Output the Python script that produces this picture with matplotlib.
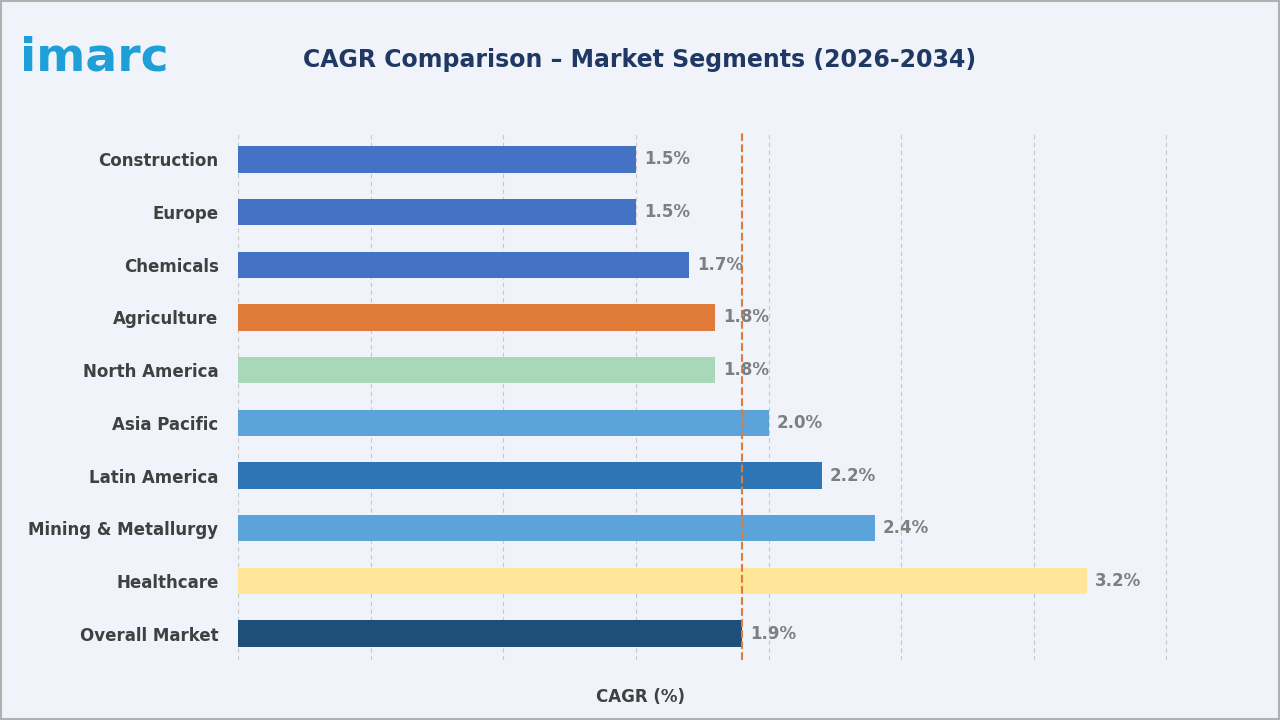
import matplotlib
matplotlib.use("Agg")
import matplotlib.pyplot as plt
from matplotlib.patches import Rectangle

categories = ["Construction", "Europe", "Chemicals", "Agriculture", "North America",
              "Asia Pacific", "Latin America", "Mining & Metallurgy", "Healthcare", "Overall Market"]
values = [1.5, 1.5, 1.7, 1.8, 1.8, 2.0, 2.2, 2.4, 3.2, 1.9]
colors = ["#4472C4", "#4472C4", "#4472C4", "#E07B39", "#A9D8B8",
          "#5BA3D9", "#2E75B6", "#5BA3D9", "#FFE699", "#1F4E79"]
overall = 1.9

bg = "#F0F3F9"
fig = plt.figure(figsize=(12.8, 7.2), dpi=100, facecolor=bg)
fig.patches.append(Rectangle((0.001, 0.001), 0.998, 0.998, transform=fig.transFigure,
                             fill=False, edgecolor="#B0B0B0", lw=1.5))
ax = fig.add_axes([238/1280, 1-660/720, (1167-238)/1280, (660-133)/720], facecolor=bg)
y = list(range(len(categories)))
ax.barh(y, values, height=0.5, color=colors, zorder=2)
ax.set_ylim(len(categories)-0.5, -0.5)
ax.set_xlim(0, 3.502)
ax.set_xticks([0, 0.5, 1, 1.5, 2, 2.5, 3, 3.5])
ax.set_xticklabels([])
ax.tick_params(length=0)
ax.grid(axis="x", color="#C8C8C8", lw=0.8, ls=(0, (4, 3)), zorder=0)
for s in ax.spines.values():
    s.set_visible(False)
ax.set_yticks(y)
ax.set_yticklabels(categories, fontsize=12, fontweight="bold", color="#404040")
ax.tick_params(axis="y", pad=14)
for yi, v in zip(y, values):
    ax.text(v + 0.03, yi, f"{v:.1f}%", va="center", ha="left", fontsize=12,
            fontweight="bold", color="#7F7F7F", zorder=4)
ax.axvline(overall, color="#E07B39", ls="--", lw=1.5, zorder=3)
fig.text(640/1280, 1-697/720, "CAGR (%)", ha="center", va="center", fontsize=12,
         fontweight="bold", color="#404040")
fig.text(640/1280, 1-60/720, "CAGR Comparison – Market Segments (2026-2034)", ha="center",
         va="center", fontsize=17, fontweight="bold", color="#1F3864")
fig.text(20/1280, 1-58/720, "imarc", ha="left", va="center", fontsize=34,
         fontweight="bold", color="#1E9FD8")
fig.savefig("out.png", dpi=100, facecolor=bg)
